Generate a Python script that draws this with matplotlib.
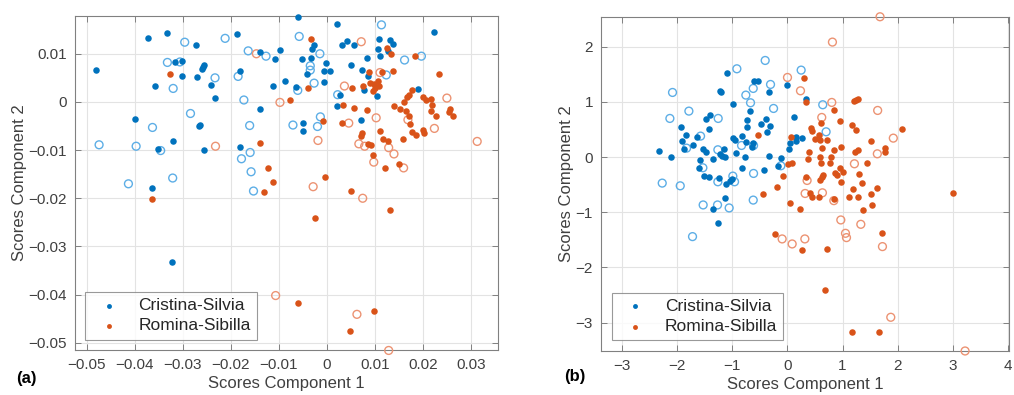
import numpy as np
import matplotlib
matplotlib.use("Agg")
import matplotlib.pyplot as plt
from matplotlib.ticker import FuncFormatter

plt.rcParams['font.family'] = ['Liberation Sans', 'DejaVu Sans']

# ---------------------------------------------------------------------------
# panel (a): scores, filled = training, open = test
# ---------------------------------------------------------------------------
a_cs_fill = [(-0.0481, 0.0067), (-0.0373, 0.0133), (-0.0332, 0.0143), (-0.0273, 0.0118), (-0.0188, 0.0141),
             (-0.0140, 0.0104), (-0.0108, 0.0089), (-0.0097, 0.0108), (-0.0060, 0.0176), (-0.0316, 0.0082),
             (-0.0301, 0.0084), (-0.0301, 0.0053), (-0.0270, 0.0051), (-0.0261, 0.0068), (-0.0259, 0.0073),
             (-0.0256, 0.0076), (-0.0242, 0.0035), (-0.0181, 0.0064), (-0.0357, 0.0033), (-0.0233, 0.0008),
             (-0.0087, 0.0044), (-0.0113, 0.0033), (-0.0065, 0.0032), (-0.0140, -0.0015), (-0.0400, -0.0035),
             (-0.0266, -0.0051), (-0.0264, -0.0048), (-0.0352, -0.0098), (-0.0321, -0.0081), (-0.0255, -0.0100),
             (-0.0182, -0.0093), (-0.0363, -0.0179), (0.0021, 0.0161), (0.0223, 0.0145), (-0.0028, 0.0118),
             (-0.0032, 0.0109), (-0.0053, 0.0089), (-0.0033, 0.0092), (-0.0042, 0.0059), (-0.0003, 0.0081),
             (-0.0007, 0.0064), (0.0005, 0.0064), (-0.0006, 0.0042), (0.0031, 0.0118), (0.0042, 0.0127),
             (0.0056, 0.0118), (0.0107, 0.0131), (0.0131, 0.0128), (0.0138, 0.0121), (0.0105, 0.0109),
             (0.0127, 0.0106), (0.0110, 0.0095), (0.0082, 0.0092), (0.0050, 0.0077), (0.0073, 0.0067),
             (0.0084, 0.0053), (0.0076, 0.0024), (0.0188, 0.0026), (0.0027, 0.0015), (0.0103, 0.0012),
             (0.0021, -0.0009), (0.0071, -0.0038), (-0.0050, -0.0044), (-0.0051, -0.0060), (-0.0322, -0.0333)]
a_cs_open = [(-0.0296, 0.0124), (-0.0212, 0.0132), (-0.0164, 0.0106), (-0.0127, 0.0095), (-0.0058, 0.0136),
             (-0.0332, 0.0082), (-0.0306, 0.0083), (-0.0233, 0.0050), (-0.0185, 0.0053), (-0.0320, 0.0028),
             (-0.0173, 0.0004), (-0.0061, 0.0024), (-0.0284, -0.0024), (-0.0363, -0.0053), (-0.0161, -0.0049),
             (-0.0071, -0.0048), (-0.0474, -0.0089), (-0.0397, -0.0092), (-0.0346, -0.0101), (-0.0160, -0.0105),
             (-0.0178, -0.0118), (-0.0158, -0.0145), (-0.0413, -0.0170), (-0.0321, -0.0158), (-0.0153, -0.0185),
             (0.0113, 0.0160), (-0.0015, 0.0100), (-0.0035, 0.0075), (-0.0035, 0.0066), (-0.0027, 0.0039),
             (0.0161, 0.0087), (0.0196, 0.0095), (0.0123, 0.0056), (0.0022, 0.0015), (-0.0014, -0.0031),
             (-0.0020, -0.0051)]
a_rs_fill = [(-0.0327, 0.0057), (-0.0077, 0.0003), (-0.0139, -0.0086), (-0.0123, -0.0138), (-0.0112, -0.0167),
             (-0.0131, -0.0188), (-0.0363, -0.0201), (-0.0033, 0.0131), (-0.0039, 0.0028), (0.0125, 0.0112),
             (0.0133, 0.0100), (0.0183, 0.0095), (0.0088, 0.0062), (0.0114, 0.0062), (0.0137, 0.0065),
             (0.0232, 0.0057), (0.0074, 0.0034), (0.0090, 0.0039), (0.0098, 0.0038), (0.0105, 0.0043),
             (0.0107, 0.0033), (0.0100, 0.0028), (0.0095, 0.0022), (0.0051, 0.0028), (0.0176, 0.0024),
             (0.0171, 0.0015), (0.0166, 0.0010), (0.0159, 0.0000), (0.0200, 0.0010), (0.0206, 0.0005),
             (0.0216, 0.0006), (0.0219, -0.0007), (0.0217, -0.0019), (0.0227, -0.0029), (0.0256, -0.0015),
             (0.0253, -0.0021), (0.0262, -0.0029), (0.0033, -0.0006), (0.0055, -0.0012), (0.0083, -0.0016),
             (0.0139, -0.0008), (0.0151, -0.0015), (0.0164, -0.0019), (0.0170, -0.0030), (0.0172, -0.0045),
             (-0.0009, -0.0039), (0.0031, -0.0044), (0.0111, -0.0061), (0.0072, -0.0064), (0.0071, -0.0071),
             (0.0177, -0.0063), (0.0185, -0.0068), (0.0200, -0.0059), (0.0202, -0.0064), (0.0157, -0.0076),
             (0.0116, -0.0078), (0.0126, -0.0082), (0.0085, -0.0087), (0.0092, -0.0090), (0.0096, -0.0111),
             (0.0149, -0.0129), (0.0121, -0.0138), (-0.0004, -0.0156), (0.0049, -0.0185), (0.0130, -0.0225),
             (-0.0026, -0.0242), (-0.0060, -0.0418), (0.0098, -0.0434), (0.0047, -0.0476)]
a_rs_open = [(-0.0147, 0.0100), (-0.0098, -0.0001), (-0.0232, -0.0092), (0.0071, 0.0125), (0.0110, 0.0061),
             (0.0036, 0.0033), (0.0249, 0.0008), (0.0168, -0.0037), (0.0102, -0.0033), (0.0045, -0.0044),
             (0.0223, -0.0055), (-0.0019, -0.0080), (0.0066, -0.0087), (0.0078, -0.0092), (0.0128, -0.0095),
             (0.0139, -0.0108), (0.0097, -0.0125), (0.0159, -0.0137), (0.0312, -0.0082), (-0.0029, -0.0176),
             (0.0074, -0.0200), (-0.0107, -0.0402), (0.0062, -0.0441), (0.0128, -0.0516)]

# ---------------------------------------------------------------------------
# panel (b)
# ---------------------------------------------------------------------------
b_cs_fill = [(-2.341, 0.109), (-2.117, -0.006), (-1.941, 0.538), (-1.845, 0.405), (-1.917, 0.296),
             (-1.875, 0.151), (-1.724, 0.224), (-1.639, 0.369), (-1.488, 0.695), (-1.403, 0.761),
             (-1.427, 0.502), (-1.227, 1.202), (-1.203, 1.172), (-1.094, 1.523), (-0.985, 0.955),
             (-1.536, 0.139), (-1.488, 0.097), (-1.597, -0.054), (-1.354, -0.042), (-1.221, 0.054),
             (-1.155, 0.139), (-1.185, 0.018), (-1.131, 0.006), (-0.998, 0.338), (-0.949, 0.308),
             (-0.937, 0.079), (-0.822, 0.387), (-0.750, 0.278), (-0.768, -0.006), (-1.609, -0.193),
             (-1.524, -0.338), (-1.433, -0.356), (-1.246, -0.387), (-1.010, -0.399), (-1.052, -0.441),
             (-1.113, -0.495), (-0.822, -0.205), (-0.429, -0.230), (-0.338, 0.024), (-0.628, 0.248),
             (-0.641, 0.187), (-0.731, 0.550), (-0.731, 0.671), (-0.677, 0.834), (-0.616, 1.384),
             (-0.538, 1.384), (-0.338, 1.172), (-0.483, 0.604), (-0.387, 0.689), (-0.314, 0.568),
             (-0.369, 0.459), (-0.114, -0.012), (-0.175, -0.157), (-1.137, -0.737), (0.000, 1.305),
             (0.332, 1.051), (0.115, 0.719), (0.157, 0.369), (0.266, 0.350), (0.151, 0.296),
             (0.042, 0.260), (0.036, 0.139), (-1.355, -0.946), (-1.270, -1.199)]
b_cs_open = [(-2.087, 1.172), (-2.135, 0.701), (-1.790, 0.834), (-2.274, -0.471), (-1.947, -0.520),
             (-1.832, 0.163), (-1.578, 0.381), (-1.258, 0.701), (-0.919, 1.601), (-1.264, 0.133),
             (-0.834, 0.211), (-1.536, -0.193), (-1.264, -0.447), (-0.992, -0.344), (-0.961, -0.447),
             (-0.616, -0.296), (-0.616, 0.211), (-0.671, 0.985), (-0.756, 1.124), (-0.622, 1.245),
             (-0.405, 1.752), (-0.308, 1.317), (-0.253, 0.882), (-0.120, -0.157), (-0.622, -0.779),
             (0.248, 1.577), (0.640, 0.949), (0.701, 0.459), (-1.531, -0.867), (-1.270, -0.867),
             (-1.059, -0.921), (-1.724, -1.441)]
b_rs_fill = [(-0.544, 0.399), (0.007, -0.127), (-0.084, -0.344), (-0.193, -0.538), (-0.447, -0.677),
             (0.302, 1.432), (0.332, 1.003), (0.846, 0.846), (1.202, 1.009), (1.239, 1.027),
             (1.281, 1.045), (0.616, 0.610), (0.955, 0.647), (1.172, 0.574), (1.251, 0.489),
             (2.085, 0.514), (0.429, 0.532), (0.453, 0.471), (0.568, 0.399), (0.502, 0.332),
             (0.066, 0.369), (0.598, 0.308), (0.725, 0.308), (0.634, 0.157), (0.967, 0.187),
             (0.840, 0.127), (0.792, 0.006), (0.393, 0.097), (0.586, 0.006), (0.604, -0.103),
             (0.779, -0.115), (0.375, -0.036), (1.227, 0.097), (1.275, 0.127), (1.511, 0.296),
             (1.764, 0.169), (1.776, 0.091), (0.073, -0.115), (1.438, -0.109), (0.955, -0.205),
             (1.015, -0.272), (0.864, -0.296), (0.906, -0.320), (1.293, -0.308), (0.647, -0.326),
             (0.622, -0.369), (0.598, -0.417), (0.338, -0.356), (0.973, -0.459), (1.347, -0.477),
             (1.190, -0.580), (1.631, -0.568), (1.511, -0.677), (2.997, -0.647), (0.405, -0.647),
             (0.453, -0.731), (0.574, -0.719), (0.840, -0.767), (1.118, -0.719), (1.287, -0.731),
             (1.537, -0.861), (1.367, -0.952), (0.048, -0.825), (0.224, -0.940), (-0.230, -1.393),
             (0.266, -1.683), (0.714, -1.665), (1.712, -1.381), (0.690, -2.408), (1.168, -3.163),
             (1.664, -3.175)]
b_rs_open = [(0.000, 1.444), (1.680, 2.544), (0.816, 2.085), (0.236, 1.202), (0.804, 0.991),
             (1.637, 0.846), (0.622, 0.719), (1.921, 0.344), (1.631, 0.060), (1.215, -0.121),
             (0.356, -0.423), (0.320, -0.659), (0.634, -0.647), (0.841, -0.789), (-0.097, -1.483),
             (0.085, -1.574), (0.315, -1.483), (0.968, -1.139), (1.053, -1.381), (1.071, -1.459),
             (1.331, -1.218), (1.724, -1.622), (1.875, -2.903), (3.224, -3.514)]

a_xticks = [-0.05, -0.04, -0.03, -0.02, -0.01, 0, 0.01, 0.02, 0.03]
a_yticks = [-0.05, -0.04, -0.03, -0.02, -0.01, 0, 0.01]
b_xticks = [-3, -2, -1, 0, 1, 2, 3, 4]
b_yticks = [-3, -2, -1, 0, 1, 2]

blue = '#0072BD'
blue_light = '#5DAEE6'
orange = '#D95319'
orange_light = '#EC9373'
grey = '#404040'


def draw_panel(ax, cs_fill, cs_open, rs_fill, rs_open, xlim, ylim, xticks, yticks):
    for pts, col in [(cs_open, blue_light), (rs_open, orange_light)]:
        p = np.array(pts)
        ax.scatter(p[:, 0], p[:, 1], s=32, facecolors='none', edgecolors=col,
                   linewidths=1.0, clip_on=False, zorder=3)
    p = np.array(cs_fill)
    ax.scatter(p[:, 0], p[:, 1], s=22, color=blue, lw=0, clip_on=False, zorder=4,
               label='Cristina-Silvia')
    p = np.array(rs_fill)
    ax.scatter(p[:, 0], p[:, 1], s=22, color=orange, lw=0, clip_on=False, zorder=4,
               label='Romina-Sibilla')

    ax.set_xlim(xlim)
    ax.set_ylim(ylim)
    ax.set_xticks(xticks)
    ax.set_yticks(yticks)
    fmt = FuncFormatter(lambda v, pos: '0' if abs(v) < 1e-12 else f'{v:g}'.replace('-', '\u2212'))
    ax.xaxis.set_major_formatter(fmt)
    ax.yaxis.set_major_formatter(fmt)
    ax.grid(True, color='#E3E3E3', lw=0.8, zorder=0)
    ax.set_axisbelow(True)
    ax.tick_params(direction='in', length=4, width=0.7, top=True, right=True, pad=6,
                   labelsize=11, colors='#808080', labelcolor=grey)
    for s in ax.spines.values():
        s.set_color('#808080')
        s.set_linewidth(0.8)
    ax.set_xlabel('Scores Component 1', fontsize=12, color=grey, labelpad=3)
    ax.set_ylabel('Scores Component 2', fontsize=12, color=grey, labelpad=1)
    leg = ax.legend(loc='lower left', fontsize=12.5, frameon=True, fancybox=False,
                    handletextpad=0.7, borderpad=0.35, labelspacing=0.3, handlelength=2.0,
                    markerscale=0.75, bbox_to_anchor=(0.0, 0.0), borderaxespad=0.6)
    leg.get_frame().set_edgecolor('#808080')
    leg.get_frame().set_linewidth(0.8)
    for t in leg.get_texts():
        t.set_color('#262626')


fig = plt.figure(figsize=(10.14, 3.95), dpi=100)
ax1 = fig.add_axes([0.074, 0.114, 0.417, 0.845])
ax2 = fig.add_axes([0.593, 0.112, 0.402, 0.845])

draw_panel(ax1, a_cs_fill, a_cs_open, a_rs_fill, a_rs_open,
           (-0.0524, 0.0355), (-0.0515, 0.0178), a_xticks, a_yticks)
draw_panel(ax2, b_cs_fill, b_cs_open, b_rs_fill, b_rs_open,
           (-3.38, 4.02), (-3.51, 2.54), b_xticks, b_yticks)

fig.text(0.016, 0.03, '(a)', fontsize=12, fontweight='bold', color='black')
fig.text(0.556, 0.035, '(b)', fontsize=12, fontweight='bold', color='black')

fig.savefig('out.png', dpi=100)
